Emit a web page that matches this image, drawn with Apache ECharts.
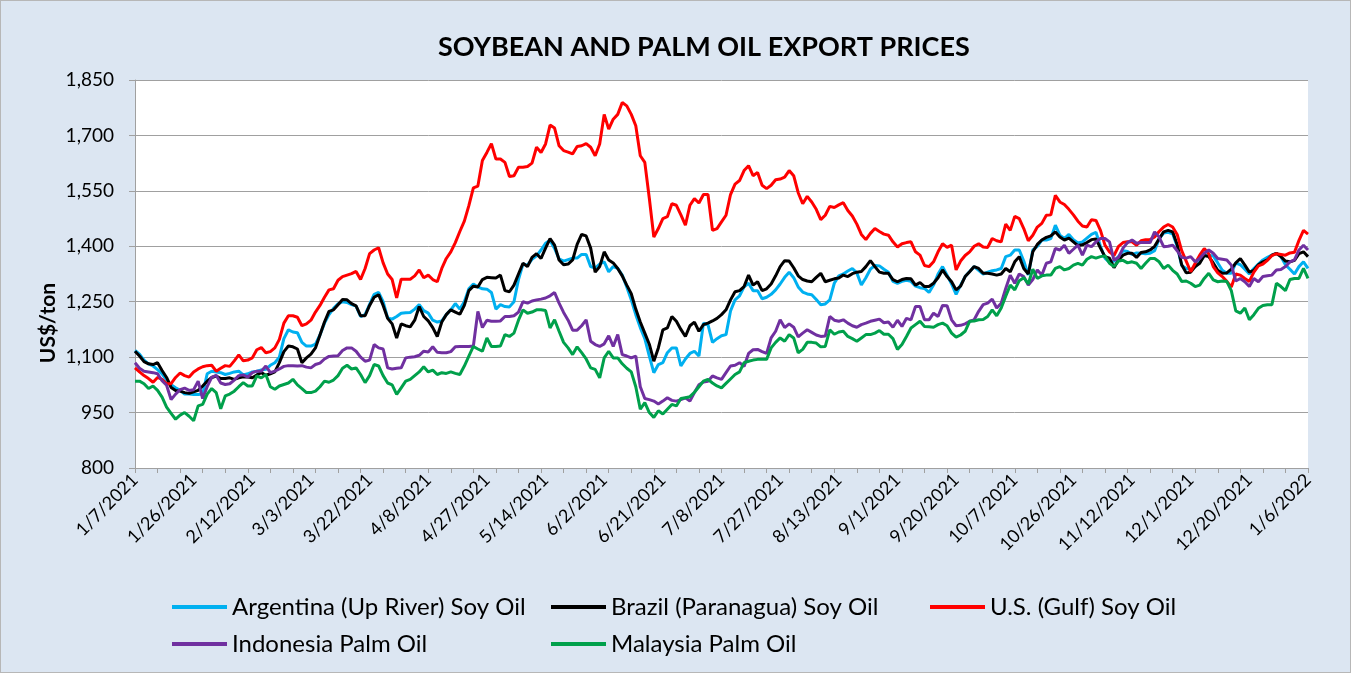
<!DOCTYPE html>
<html>
<head>
<meta charset="utf-8">
<script src="https://cdn.jsdelivr.net/npm/echarts@6/dist/echarts.min.js"></script>
<style>
html,body{margin:0;padding:0;background:#fff;}
#chart{position:absolute;left:0;top:0;width:1349px;height:671px;border:1px solid #b7b7b7;background:#dce6f2;}
</style>
</head>
<body>
<div id="chart"></div>
<script>
// ---- Data ----
const startDate = '2021-01-07';   // first business day shown
const numDays = 261;              // business days, 1/7/2021 .. 1/6/2022
const yTicks = [800, 950, 1100, 1250, 1400, 1550, 1700, 1850];
const seriesNames = ['Argentina (Up River) Soy Oil', 'Brazil (Paranagua) Soy Oil', 'U.S. (Gulf) Soy Oil', 'Indonesia Palm Oil', 'Malaysia Palm Oil'];

const argentina = [
1118,1108,1092,1082,1076,1066,1055,1038,1025,1017,
1010,1000,1000,999,999,1000,1055,1062,1060,1058,
1053,1056,1060,1062,1052,1055,1060,1062,1065,1067,
1078,1085,1100,1150,1174,1168,1166,1140,1130,1130,
1135,1160,1192,1215,1232,1244,1250,1248,1242,1238,
1210,1215,1243,1270,1275,1250,1206,1203,1210,1219,
1220,1221,1230,1242,1226,1219,1200,1195,1198,1215,
1228,1245,1230,1250,1285,1298,1290,1285,1284,1275,
1230,1242,1237,1236,1250,1310,1352,1349,1365,1374,
1390,1408,1416,1394,1366,1360,1364,1368,1368,1378,
1378,1345,1341,1352,1358,1331,1345,1340,1322,1290,
1255,1215,1180,1150,1103,1058,1080,1085,1112,1125,
1125,1076,1095,1110,1116,1103,1192,1188,1140,1150,
1158,1161,1225,1255,1266,1290,1300,1280,1280,1258,
1262,1270,1282,1298,1316,1330,1315,1290,1276,1271,
1269,1256,1242,1244,1255,1300,1320,1325,1333,1340,
1328,1295,1315,1338,1348,1347,1338,1330,1305,1300,
1305,1308,1305,1292,1288,1286,1275,1295,1325,1345,
1322,1298,1270,1295,1318,1332,1345,1335,1325,1330,
1334,1336,1340,1372,1376,1390,1390,1360,1322,1390,
1400,1417,1417,1421,1457,1430,1421,1432,1418,1409,
1412,1422,1432,1438,1400,1368,1356,1360,1372,1388,
1386,1378,1382,1381,1380,1381,1388,1420,1436,1438,
1434,1400,1348,1340,1338,1345,1358,1374,1376,1374,
1355,1335,1327,1327,1355,1350,1338,1325,1340,1352,
1363,1370,1376,1381,1372,1350,1338,1325,1345,1358,
1340];

const brazil = [
1116,1103,1088,1082,1080,1085,1064,1045,1018,1010,
1008,1004,1002,1006,1010,1022,1035,1045,1049,1042,
1042,1044,1040,1044,1047,1046,1044,1052,1058,1051,
1055,1060,1085,1115,1130,1128,1122,1085,1098,1108,
1125,1160,1195,1224,1228,1242,1256,1255,1245,1239,
1212,1212,1240,1262,1269,1240,1205,1190,1152,1190,
1185,1182,1200,1237,1210,1198,1180,1156,1195,1215,
1228,1222,1216,1240,1280,1292,1290,1310,1316,1315,
1314,1322,1280,1277,1295,1325,1354,1345,1370,1380,
1367,1395,1421,1403,1363,1350,1352,1363,1405,1432,
1428,1395,1330,1345,1385,1363,1355,1340,1320,1295,
1272,1230,1195,1165,1135,1089,1125,1174,1179,1210,
1197,1175,1156,1185,1195,1170,1188,1192,1198,1205,
1215,1228,1255,1277,1280,1291,1322,1295,1304,1280,
1285,1298,1320,1345,1361,1360,1342,1320,1310,1306,
1304,1316,1327,1304,1308,1312,1314,1322,1318,1326,
1330,1332,1345,1361,1345,1330,1327,1327,1310,1304,
1310,1313,1312,1295,1302,1291,1291,1300,1315,1336,
1318,1304,1282,1292,1318,1331,1345,1340,1327,1327,
1325,1322,1325,1340,1331,1358,1372,1340,1325,1385,
1405,1417,1424,1428,1439,1425,1417,1422,1412,1402,
1404,1410,1418,1420,1395,1372,1368,1342,1363,1376,
1381,1381,1370,1383,1385,1390,1400,1420,1439,1443,
1439,1405,1350,1328,1330,1345,1354,1375,1372,1355,
1335,1327,1328,1338,1355,1367,1349,1330,1335,1350,
1358,1363,1376,1381,1372,1360,1358,1362,1380,1385,
1372];

const usGulf = [
1071,1060,1050,1042,1032,1045,1040,1028,1028,1045,
1057,1050,1046,1060,1068,1074,1077,1078,1062,1070,
1077,1075,1090,1106,1090,1092,1098,1120,1126,1112,
1115,1125,1148,1192,1212,1212,1208,1185,1190,1200,
1222,1240,1262,1282,1285,1308,1318,1322,1326,1332,
1310,1340,1380,1390,1396,1355,1325,1310,1260,1311,
1311,1311,1320,1336,1315,1322,1310,1304,1340,1367,
1385,1410,1440,1468,1510,1558,1563,1632,1654,1678,
1636,1636,1627,1589,1591,1614,1614,1616,1625,1668,
1654,1677,1728,1720,1672,1659,1655,1650,1670,1672,
1678,1668,1645,1677,1757,1717,1744,1757,1789,1780,
1757,1726,1645,1627,1530,1425,1448,1475,1480,1515,
1511,1485,1457,1511,1529,1517,1540,1540,1443,1448,
1466,1484,1540,1568,1578,1605,1618,1591,1600,1565,
1556,1565,1580,1582,1587,1605,1591,1545,1515,1535,
1520,1500,1472,1484,1508,1505,1512,1518,1497,1482,
1460,1432,1418,1435,1448,1440,1433,1430,1412,1398,
1407,1410,1412,1385,1376,1348,1345,1358,1385,1407,
1397,1403,1336,1360,1375,1385,1400,1407,1398,1397,
1421,1415,1412,1460,1443,1481,1475,1448,1415,1430,
1452,1462,1484,1485,1538,1520,1513,1500,1485,1468,
1455,1452,1472,1470,1443,1403,1385,1375,1400,1410,
1412,1412,1403,1415,1418,1418,1425,1440,1452,1459,
1452,1432,1388,1360,1331,1354,1376,1394,1380,1345,
1328,1318,1305,1290,1325,1322,1313,1305,1330,1347,
1352,1362,1375,1380,1378,1376,1382,1384,1416,1443,
1433];

const indonesia = [
1085,1070,1062,1060,1058,1055,1036,1024,985,1000,
1012,1016,1010,1012,1035,988,1020,1045,1051,1030,
1026,1028,1038,1050,1052,1046,1058,1062,1062,1076,
1058,1062,1068,1075,1077,1077,1076,1077,1073,1071,
1080,1084,1095,1102,1103,1104,1118,1125,1125,1116,
1100,1089,1092,1134,1125,1122,1071,1068,1070,1071,
1098,1100,1101,1105,1116,1114,1128,1113,1112,1112,
1115,1128,1129,1129,1129,1130,1224,1180,1200,1197,
1197,1198,1210,1210,1212,1222,1250,1246,1252,1255,
1257,1260,1266,1275,1246,1221,1200,1173,1173,1185,
1201,1143,1134,1129,1136,1158,1129,1161,1107,1103,
1098,1103,1020,988,985,981,973,981,990,983,
981,985,990,981,1004,1025,1033,1035,1049,1044,
1040,1058,1076,1078,1085,1075,1110,1120,1121,1115,
1110,1152,1170,1201,1180,1190,1181,1155,1165,1174,
1167,1160,1156,1157,1210,1200,1197,1201,1192,1185,
1181,1188,1192,1197,1200,1203,1193,1195,1181,1200,
1183,1205,1201,1237,1237,1201,1201,1219,1210,1240,
1239,1201,1185,1186,1190,1197,1201,1224,1242,1246,
1257,1233,1246,1286,1322,1300,1325,1318,1295,1310,
1336,1322,1354,1358,1394,1390,1403,1381,1392,1403,
1376,1403,1399,1412,1421,1421,1412,1362,1370,1395,
1410,1417,1408,1410,1410,1410,1439,1425,1399,1400,
1403,1388,1370,1368,1372,1358,1367,1381,1390,1381,
1367,1365,1363,1349,1306,1313,1304,1291,1313,1304,
1318,1320,1322,1336,1337,1345,1358,1363,1390,1403,
1390];

const malaysia = [
1035,1035,1028,1015,1022,1010,992,965,948,932,
943,950,940,928,968,972,1000,1015,1004,960,
995,1000,1008,1020,1031,1022,1022,1049,1044,1053,
1020,1013,1022,1026,1030,1040,1025,1015,1004,1004,
1008,1020,1035,1032,1038,1050,1070,1078,1068,1071,
1053,1031,1050,1080,1076,1050,1030,1025,999,1017,
1035,1040,1050,1060,1074,1060,1065,1053,1058,1056,
1060,1056,1053,1076,1103,1129,1122,1116,1152,1129,
1129,1130,1161,1156,1165,1200,1228,1219,1222,1228,
1228,1226,1179,1201,1170,1140,1125,1107,1128,1112,
1095,1071,1067,1044,1098,1116,1098,1098,1082,1070,
1060,1020,959,977,950,937,955,946,959,972,
968,988,990,993,1005,1020,1035,1040,1030,1022,
1017,1029,1041,1053,1060,1085,1089,1092,1094,1094,
1094,1125,1140,1152,1143,1161,1152,1112,1121,1140,
1140,1138,1128,1129,1174,1162,1168,1170,1156,1150,
1143,1152,1161,1161,1165,1172,1162,1162,1150,1121,
1134,1156,1179,1188,1197,1183,1182,1181,1188,1192,
1185,1165,1154,1160,1170,1197,1198,1201,1202,1210,
1228,1212,1233,1265,1295,1282,1307,1315,1298,1338,
1313,1320,1322,1322,1340,1345,1336,1340,1349,1354,
1349,1365,1372,1368,1372,1374,1354,1345,1360,1362,
1355,1358,1354,1340,1354,1367,1367,1358,1340,1349,
1335,1325,1305,1306,1300,1291,1295,1313,1327,1309,
1304,1306,1305,1280,1225,1219,1233,1201,1215,1232,
1240,1242,1242,1300,1291,1280,1310,1313,1313,1340,
1313];

// ---- Categories: business days starting at startDate ----
const categories = [];
{
  const d = new Date(startDate + 'T12:00:00');
  while (categories.length < numDays) {
    const wd = d.getDay();
    if (wd !== 0 && wd !== 6) {
      categories.push((d.getMonth() + 1) + '/' + d.getDate() + '/' + d.getFullYear());
    }
    d.setDate(d.getDate() + 1);
  }
}

const colors = ['#00b0f0', '#000000', '#ff0000', '#7030a0', '#00a04b'];
const values = [argentina, brazil, usGulf, indonesia, malaysia];
const FONT = 'Lato, "Liberation Sans", sans-serif';

const legendPos = [
  {left: 166, top: 589}, {left: 545, top: 589}, {left: 924, top: 589},
  {left: 166, top: 626}, {left: 545, top: 626}
];

const chart = echarts.init(document.getElementById('chart'), null, {renderer: 'canvas'});
chart.setOption({
  backgroundColor: '#dce6f2',
  animation: false,
  color: colors,
  title: {
    text: 'SOYBEAN AND PALM OIL EXPORT PRICES',
    left: 432,
    top: 28,
    textStyle: {fontFamily: FONT, fontWeight: 'bold', fontSize: 27, color: '#000'}
  },
  graphic: [{
    type: 'text',
    x: 47,
    y: 322,
    rotation: Math.PI / 2,
    style: {
      text: 'US$/ton',
      fontFamily: FONT, fontWeight: 'bold', fontSize: 21, fill: '#000',
      align: 'center', verticalAlign: 'middle'
    }
  }],
  legend: seriesNames.map((n, i) => ({
    data: [n],
    left: legendPos[i].left,
    top: legendPos[i].top,
    icon: 'rect',
    itemWidth: 55,
    itemHeight: 4,
    selectedMode: false,
    textStyle: {fontFamily: FONT, fontSize: 24, color: '#000'}
  })),
  grid: {
    left: 134, right: 42, top: 79, bottom: 204,
    show: true, backgroundColor: '#ffffff', borderWidth: 0
  },
  xAxis: {
    type: 'category',
    data: categories,
    boundaryGap: false,
    axisLine: {lineStyle: {color: '#a0a0a0', width: 1}},
    axisTick: {show: true, interval: 4, length: 5, lineStyle: {color: '#a0a0a0'}},
    axisLabel: {interval: 12, rotate: 45, margin: 9, fontFamily: FONT, fontSize: 18, color: '#000'},
    splitLine: {show: false}
  },
  yAxis: {
    type: 'value',
    min: yTicks[0],
    max: yTicks[yTicks.length - 1],
    interval: yTicks[1] - yTicks[0],
    axisLine: {show: true, lineStyle: {color: '#a0a0a0', width: 1}},
    axisTick: {show: true, length: 6, lineStyle: {color: '#a0a0a0'}},
    axisLabel: {
      margin: 21, fontFamily: FONT, fontSize: 19, color: '#000',
      formatter: v => v.toLocaleString('en-US')
    },
    splitLine: {show: true, lineStyle: {color: '#a0a0a0', width: 1}}
  },
  series: seriesNames.map((n, i) => ({
    name: n,
    type: 'line',
    data: values[i],
    showSymbol: false,
    symbol: 'none',
    lineStyle: {width: 3, color: colors[i]},
    itemStyle: {color: colors[i]}
  }))
});
</script>
</body>
</html>
